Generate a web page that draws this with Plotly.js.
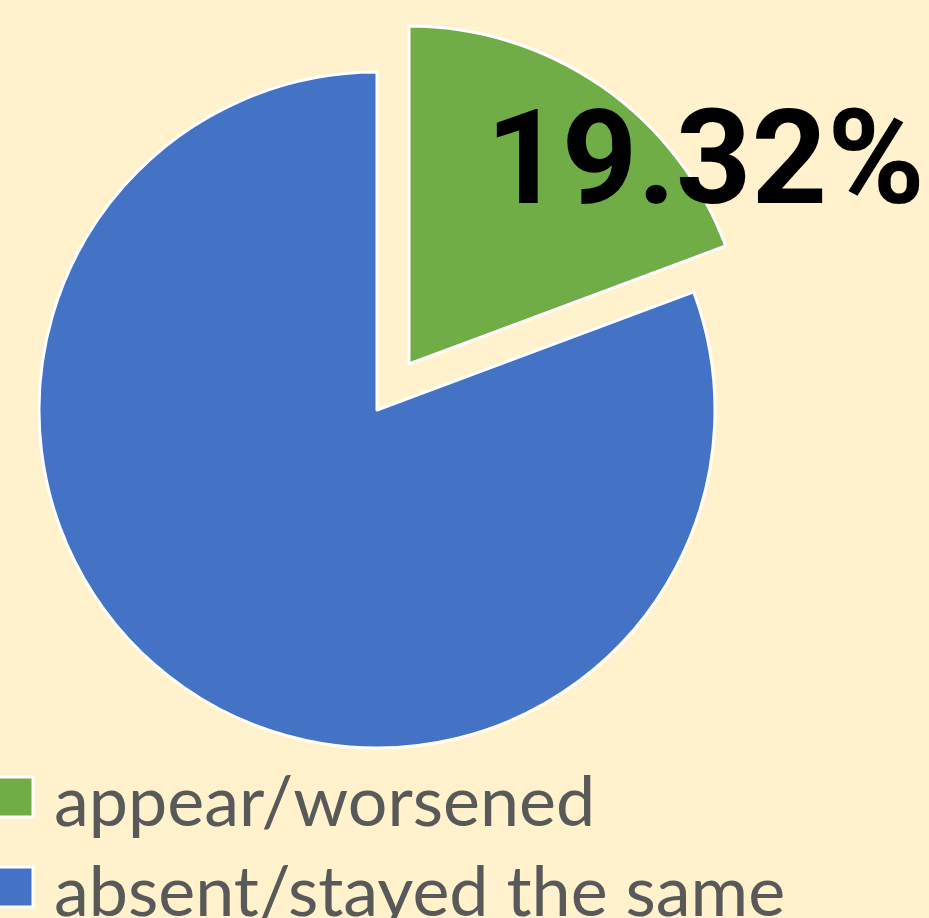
<!DOCTYPE html>
<html>
<head>
<meta charset="utf-8">
<script src="https://cdn.plot.ly/plotly-3.0.1.min.js"></script>
<style>html,body{margin:0;padding:0;background:#FFF2CC;}</style>
</head>
<body>
<div id="chart" style="width:929px;height:918px;"></div>
<script>
const categories = ['appear/worsened', 'absent/stayed the same'];
const values = [19.32, 80.68];
const colors = ['#70AD47', '#4472C4'];

const W = 929, H = 918;
const px = x => x / W;
const py = y => 1 - y / H;
const clear = 'rgba(0,0,0,0)';

const total = values.reduce((a, b) => a + b, 0);
const pctText = (values[0] / total * 100).toFixed(2) + '%';

// main body (blue slice), exploded slice drawn by a second pie offset outward
const traceMain = {
  type: 'pie', labels: categories, values: values, sort: false,
  direction: 'clockwise', rotation: 0, textinfo: 'none',
  hoverinfo: 'label+percent',
  marker: { colors: [clear, colors[1]], line: { color: [clear, '#FFFFFF'], width: [0, 3] } },
  domain: { x: [px(39), px(715)], y: [py(748), py(72)] },
  showlegend: false
};
const tracePulled = {
  type: 'pie', labels: categories, values: values, sort: false,
  direction: 'clockwise', rotation: 0, textinfo: 'none',
  hoverinfo: 'label+percent',
  marker: { colors: [colors[0], clear], line: { color: ['#FFFFFF', clear], width: [3, 0] } },
  domain: { x: [px(71), px(747)], y: [py(702), py(26)] },
  showlegend: false
};

const legendFont = { family: 'Lato, "Open Sans", sans-serif', size: 70, color: '#595959' };
const legendRows = [797, 887];
const annotations = [{
  text: '<b>' + pctText + '</b>', xref: 'paper', yref: 'paper',
  x: px(705), y: py(158), xanchor: 'center', yanchor: 'middle', showarrow: false,
  font: { family: 'Roboto, sans-serif', size: 132, color: '#000000' }
}];
const shapes = [];
categories.forEach((c, i) => {
  annotations.push({
    text: c, xref: 'paper', yref: 'paper', x: px(52), y: py(legendRows[i] + 2),
    xanchor: 'left', yanchor: 'middle', showarrow: false, font: legendFont
  });
  shapes.push({
    type: 'rect', xref: 'paper', yref: 'paper',
    x0: px(-8), x1: px(33), y0: py(legendRows[i] + 20), y1: py(legendRows[i] - 20),
    fillcolor: colors[i], line: { color: '#FFFFFF', width: 3 }
  });
});

const layout = {
  width: W, height: H,
  margin: { l: 0, r: 0, t: 0, b: 0 },
  paper_bgcolor: '#FFF2CC', plot_bgcolor: '#FFF2CC',
  showlegend: false,
  annotations: annotations, shapes: shapes
};

Plotly.newPlot('chart', [traceMain, tracePulled], layout, { displayModeBar: false });
</script>
</body>
</html>
